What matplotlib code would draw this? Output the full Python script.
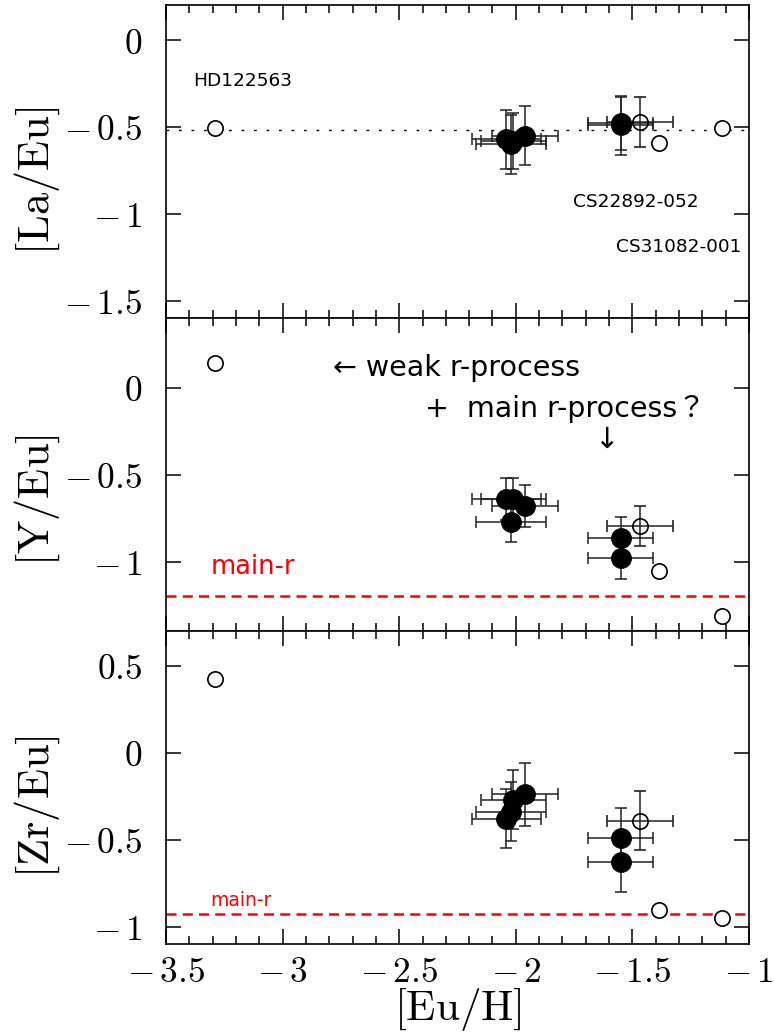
import numpy as np
import matplotlib.pyplot as plt
from matplotlib.ticker import MultipleLocator, FixedLocator, FuncFormatter

plt.rcParams['mathtext.fontset'] = 'cm'
plt.rcParams['font.family'] = ['DejaVu Sans', 'Noto Sans CJK JP']

# r-process enhanced stars with measured errors (filled)
eu_h_filled = [-2.04, -2.02, -2.01, -1.96, -1.55, -1.55]
eu_h_err_filled = [0.15, 0.15, 0.14, 0.14, 0.14, 0.14]
la_eu_filled = [-0.57, -0.60, -0.58, -0.55, -0.48, -0.49]
la_eu_err_filled = [0.17, 0.17, 0.16, 0.17, 0.15, 0.17]
y_eu_filled = [-0.64, -0.77, -0.64, -0.68, -0.865, -0.98]
y_eu_err_filled = [0.12, 0.12, 0.12, 0.12, 0.12, 0.12]
zr_eu_filled = [-0.38, -0.34, -0.27, -0.24, -0.49, -0.63]
zr_eu_err_filled = [0.17, 0.17, 0.17, 0.18, 0.17, 0.17]

# comparison star with errors (open)
eu_h_cmp = [-1.467]
eu_h_err_cmp = [0.14]
la_eu_cmp = [-0.47]
la_eu_err_cmp = [0.145]
y_eu_cmp = [-0.795]
y_eu_err_cmp = [0.115]
zr_eu_cmp = [-0.39]
zr_eu_err_cmp = [0.17]

# literature stars: HD122563, CS22892-052, CS31082-001
eu_h_lit = [-3.29, -1.385, -1.114]
la_eu_lit = [-0.507, -0.594, -0.505]
y_eu_lit = [0.143, -1.057, -1.316]
zr_eu_lit = [0.423, -0.907, -0.949]

la_eu_mean = -0.52
y_eu_main_r = -1.2
zr_eu_main_r = -0.93

fig, axes = plt.subplots(3, 1, sharex=True, figsize=(7.74, 10.35), dpi=100)
plt.subplots_adjust(left=0.2145, right=0.9677, top=0.9949, bottom=0.088, hspace=0)

panels = [
    (la_eu_filled, la_eu_err_filled, la_eu_cmp, la_eu_err_cmp, la_eu_lit,
     r'$[\mathrm{La}/\mathrm{Eu}]$', (-1.6, 0.2), [0, -0.5, -1, -1.5], 0.44),
    (y_eu_filled, y_eu_err_filled, y_eu_cmp, y_eu_err_cmp, y_eu_lit,
     r'$[\mathrm{Y}/\mathrm{Eu}]$', (-1.4, 0.4), [0, -0.5, -1], 0.42),
    (zr_eu_filled, zr_eu_err_filled, zr_eu_cmp, zr_eu_err_cmp, zr_eu_lit,
     r'$[\mathrm{Zr}/\mathrm{Eu}]$', (-1.1, 0.7), [0.5, 0, -0.5, -1], 0.44),
]


def tick_fmt(v, _):
    v = round(v, 2)
    if abs(v) < 1e-9:
        return '$0$'
    if v < 0:
        return r'$-\,%g$' % -v
    return '$%g$' % v


for ax, (yf, yfe, yc, yce, yl, label, ylim, yt, lab_y) in zip(axes, panels):
    ax.errorbar(eu_h_filled, yf, xerr=eu_h_err_filled, yerr=yfe, fmt='o',
                ms=14, mfc='k', mec='k', ecolor='#222222', elinewidth=1.1,
                capsize=4, capthick=1.1, zorder=3)
    ax.errorbar(eu_h_cmp, yc, xerr=eu_h_err_cmp, yerr=yce, fmt='o',
                ms=11, mfc='none', mec='k', mew=1.2, ecolor='#222222',
                elinewidth=1.1, capsize=4, capthick=1.1, zorder=3)
    ax.plot(eu_h_lit, yl, 'o', ms=11, mfc='white', mec='k', mew=1.2, zorder=4)

    ax.set_xlim(-3.5, -1)
    ax.set_ylim(*ylim)
    ax.xaxis.set_major_locator(MultipleLocator(0.5))
    ax.xaxis.set_minor_locator(MultipleLocator(0.1))
    ax.yaxis.set_major_locator(FixedLocator(yt))
    ax.yaxis.set_major_formatter(FuncFormatter(tick_fmt))
    ax.xaxis.set_major_formatter(FuncFormatter(tick_fmt))
    ax.tick_params(which='both', direction='in', top=True, right=True)
    ax.tick_params(which='major', length=11, width=1.1, labelsize=25.5)
    ax.tick_params(which='minor', length=6, width=1.1)
    ax.tick_params(axis='y', pad=17)
    ax.tick_params(axis='x', pad=8)
    for s in ax.spines.values():
        s.set_linewidth(1.2)
    ax.set_ylabel(label, fontsize=32)
    ax.yaxis.set_label_coords(-0.178, lab_y)

# top panel: mean La/Eu and star names
axes[0].axhline(la_eu_mean, color='k', lw=1.0, ls=(0, (2, 7)), zorder=1)
axes[0].text(-3.384, -0.233, 'HD122563', fontsize=13.3, ha='left', va='center')
axes[0].text(-1.753, -0.93, 'CS22892-052', fontsize=13.3, ha='left', va='center')
axes[0].text(-1.569, -1.193, 'CS31082-001', fontsize=13.3, ha='left', va='center')

# middle panel: main r-process level and annotations
axes[1].axhline(y_eu_main_r, color='#ff0000', lw=1.8, ls=(0, (4, 2.5)), zorder=1)
axes[1].text(-3.31, -1.034, 'main-r', color='#ff0000', fontsize=18.5, ha='left', va='center')
axes[1].text(-2.785, 0.114, '← weak r-process', fontsize=20.5, ha='left', va='center')
axes[1].text(-2.391, -0.12, '+  main r-process？', fontsize=20.5, ha='left', va='center')
axes[1].text(-1.612, -0.30, '↓', fontsize=21, ha='center', va='center')

# bottom panel: main r-process level
axes[2].axhline(zr_eu_main_r, color='#ff0000', lw=1.8, ls=(0, (4, 2.5)), zorder=1)
axes[2].text(-3.31, -0.851, 'main-r', color='#ff0000', fontsize=13.5, ha='left', va='center')

axes[2].set_xlabel(r'$[\mathrm{Eu}/\mathrm{H}]$', fontsize=31, labelpad=-2)

fig.savefig('out.png', dpi=100)
